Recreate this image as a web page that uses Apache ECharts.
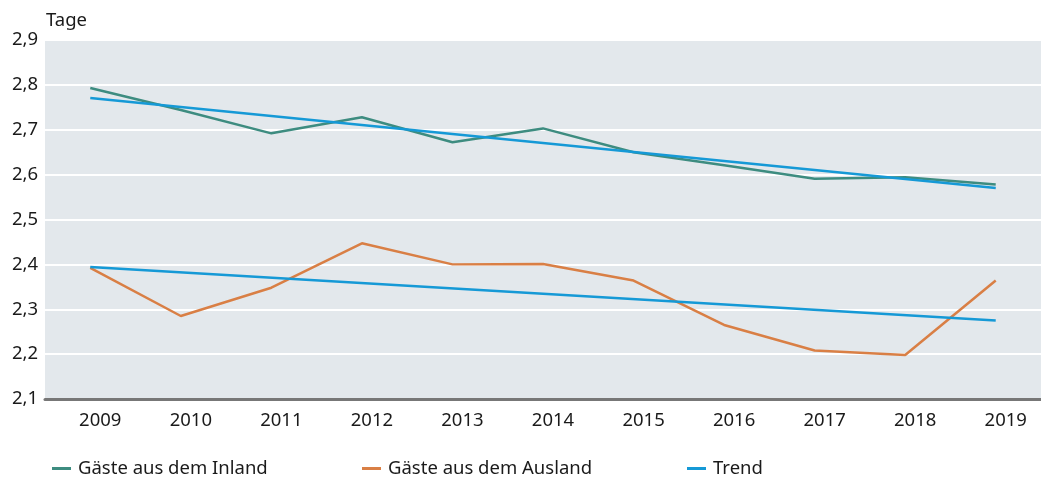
<!DOCTYPE html>
<html>
<head>
<meta charset="utf-8">
<script src="https://cdn.jsdelivr.net/npm/echarts@6/dist/echarts.min.js"></script>
<style>
html,body{margin:0;padding:0;background:#fff;}
#c{width:1041px;height:478px;}
</style>
</head>
<body>
<div id="c"></div>
<script>
const years = ['2009','2010','2011','2012','2013','2014','2015','2016','2017','2018','2019'];
const inland = [2.793, 2.744, 2.692, 2.728, 2.672, 2.703, 2.650, 2.621, 2.591, 2.594, 2.578];
const ausland = [2.392, 2.285, 2.348, 2.447, 2.400, 2.401, 2.364, 2.265, 2.208, 2.198, 2.364];
const trendInland = [2.771, null, null, null, null, null, null, null, null, null, 2.570];
const trendAusland = [2.394, null, null, null, null, null, null, null, null, null, 2.275];
const yTicks = {min: 2.1, max: 2.9, interval: 0.1};

const FONT = 'Noto Sans';
const cGreen = '#3d8c80', cOrange = '#d97f45', cBlue = '#1599d6';

const chart = echarts.init(document.getElementById('c'));
const legendBase = {
  top: 459, orient: 'horizontal', icon: 'rect', itemWidth: 19, itemHeight: 3, itemGap: 7,
  padding: 0,
  textStyle: {fontFamily: FONT, fontSize: 18.5, color: '#1a1a1a', padding: [0,0,0,2]}, selectedMode: false
};
chart.setOption({
  animation: false,
  title: {text: 'Tage', left: 41, top: 6, textStyle: {fontFamily: FONT, fontSize: 18.5, fontWeight: 'normal', color: '#1a1a1a'}},
  grid: {left: 45, top: 40, width: 1005, height: 359, show: true, backgroundColor: '#e3e8ec', borderWidth: 0},
  legend: [
    Object.assign({}, legendBase, {left: 52, data: ['Gäste aus dem Inland']}),
    Object.assign({}, legendBase, {left: 362, data: ['Gäste aus dem Ausland']}),
    Object.assign({}, legendBase, {left: 687, data: ['Trend']})
  ],
  xAxis: {
    type: 'category', data: years, boundaryGap: true,
    axisLine: {show: true, lineStyle: {color: '#777', width: 3}},
    axisTick: {show: false},
    axisLabel: {fontFamily: FONT, fontSize: 18.5, color: '#1a1a1a', margin: 12, padding: [0,0,0,20]},
    splitLine: {show: false}
  },
  yAxis: {
    type: 'value', min: yTicks.min, max: yTicks.max, interval: yTicks.interval,
    axisLine: {show: false}, axisTick: {show: false},
    axisLabel: {fontFamily: FONT, fontSize: 18.5, color: '#1a1a1a', margin: 7,
      formatter: v => v.toFixed(1).replace('.', ',')},
    splitLine: {show: true, lineStyle: {color: '#ffffff', width: 2}}
  },
  series: [
    {name: 'Gäste aus dem Inland', type: 'line', data: inland, symbol: 'none', lineStyle: {color: cGreen, width: 2.5}, itemStyle: {color: cGreen}, z: 3},
    {name: 'Gäste aus dem Ausland', type: 'line', data: ausland, symbol: 'none', lineStyle: {color: cOrange, width: 2.5}, itemStyle: {color: cOrange}, z: 3},
    {name: 'Trend', type: 'line', data: trendInland, connectNulls: true, symbol: 'none', lineStyle: {color: cBlue, width: 2.5}, itemStyle: {color: cBlue}, z: 4},
    {name: 'Trend', type: 'line', data: trendAusland, connectNulls: true, symbol: 'none', lineStyle: {color: cBlue, width: 2.5}, itemStyle: {color: cBlue}, z: 4}
  ]
});
</script>
</body>
</html>
